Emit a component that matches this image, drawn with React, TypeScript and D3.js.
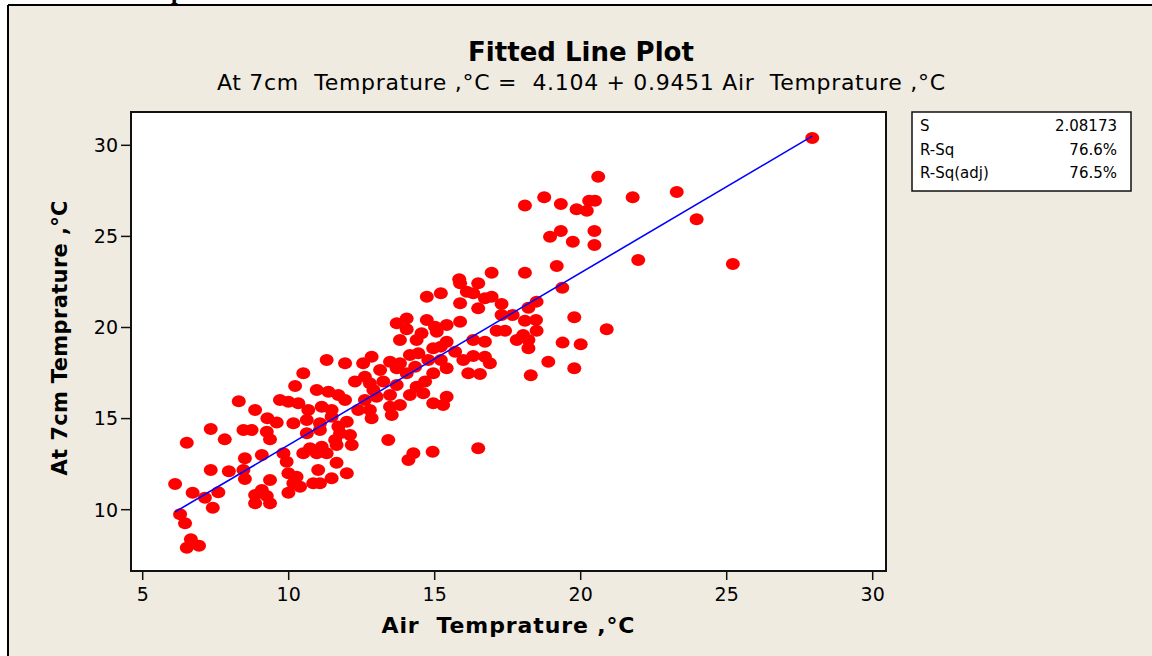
import React from "react";
import * as d3 from "d3";

// Air temperature (°C) and temperature at 7 cm depth (°C)
const airTemp: number[] = [
  // coolest readings
  6.51, 6.11, 6.28, 6.45, 6.65, 6.51, 6.93, 6.71, 7.13, 7.40, 7.59, 7.33, 7.33, 7.81, 8.29, 7.95,
  // 8.5 – 10.5
  10.22, 9.70, 9.99, 10.33, 8.85, 9.27, 9.59, 10.16, 8.45, 8.73, 9.25, 9.36, 8.50, 9.08, 9.82, 9.93,
  8.45, 9.36, 9.99, 10.16, 9.99, 9.08, 8.85, 9.25, 8.85, 9.36, 8.50, 10.27,
  // 10.5 – 13.7
  11.30, 11.93, 12.55, 12.84, 13.47, 13.70, 13.70, 13.13, 12.61, 12.27, 12.78, 13.24, 13.70, 12.90,
  10.96, 11.36, 11.70, 11.93, 12.61, 13.01, 12.38, 12.78, 13.47, 12.84, 10.62, 11.07, 11.47, 11.99,
  11.70, 12.10, 11.59, 11.07, 10.62, 13.41, 12.16, 10.50, 13.47, 10.67, 11.13, 11.47, 13.53, 11.76,
  10.73, 11.13, 11.64, 10.50, 10.96, 11.30, 11.64, 10.39, 10.84, 11.07, 11.47, 11.99, 11.01,
  // 13.8 – 16.5
  14.73, 15.21, 15.87, 16.49, 16.10, 15.87, 16.49, 14.04, 14.04, 14.73, 15.01, 15.41, 15.87, 13.81,
  14.38, 14.55, 15.07, 15.41, 14.95, 15.21, 16.32, 15.70, 15.98, 16.32, 16.15, 13.81, 14.15, 14.44,
  14.78, 15.21, 15.41, 14.95, 14.33, 14.04, 14.38, 14.67, 14.61, 14.15, 13.81, 14.95, 15.41, 14.27,
  14.93, 16.49, 15.84, 16.32, 15.29, 14.10,
  // 16.5 – 20.6
  20.60, 18.75, 18.09, 19.32, 19.86, 20.21, 20.29, 20.49, 18.95, 19.32, 19.73, 20.47, 20.47, 19.18,
  16.95, 18.09, 19.37, 16.95, 16.72, 17.29, 18.49, 18.21, 17.29, 17.67, 18.09, 18.47, 17.12, 17.41,
  18.49, 18.03, 17.81, 18.21, 18.21, 16.72, 19.78, 20.00, 19.38, 18.89, 19.78, 18.29, 16.72, 16.89,
  16.55,
  // warmest readings
  27.93, 21.78, 23.29, 23.97, 21.97, 25.21, 20.89,
];

const depthTemp: number[] = [
  13.68, 11.41, 9.75, 9.25, 8.38, 7.91, 8.02, 10.93, 10.66, 10.11, 10.96, 12.18, 14.43, 13.86, 15.95, 12.11,
  16.79, 16.02, 15.93, 15.84, 15.47, 15.02, 14.78, 14.74, 14.37, 14.37, 14.28, 13.86, 12.82, 13.00, 13.10, 12.63,
  12.18, 11.63, 12.00, 11.45, 10.93, 11.08, 10.81, 10.75, 10.35, 10.35, 11.69, 11.81,
  18.22, 18.04, 18.04, 18.40, 18.12, 20.23, 17.76, 17.67, 17.30, 17.03, 16.94, 17.03, 16.84, 16.57,
  16.57, 16.48, 16.30, 16.02, 16.02, 16.20, 15.47, 15.47, 15.65, 15.02, 14.92, 14.74, 15.10, 14.83,
  14.56, 14.10, 13.83, 14.37, 14.19, 13.83, 13.55, 17.49, 16.30, 15.47, 15.65, 15.47, 15.20, 14.19,
  13.37, 13.46, 13.55, 13.10, 13.10, 13.10, 12.58, 11.26, 11.45, 11.45, 11.72, 12.00, 12.18,
  21.69, 21.88, 22.43, 22.43, 21.96, 21.33, 21.05, 20.50, 19.90, 20.41, 20.04, 20.14, 20.32, 19.31,
  19.31, 19.68, 19.77, 19.22, 18.86, 18.95, 19.31, 18.67, 18.22, 18.44, 17.49, 18.04, 18.49, 18.58,
  18.22, 18.22, 17.76, 17.49, 17.85, 17.49, 16.75, 17.03, 16.39, 16.30, 15.75, 15.84, 16.20, 13.10,
  13.18, 13.37, 22.65, 21.88, 15.75, 12.73,
  28.28, 27.15, 26.69, 26.78, 26.49, 26.41, 26.96, 26.96, 24.98, 25.30, 24.71, 25.30, 24.53, 23.38,
  23.01, 23.01, 22.18, 21.69, 21.60, 21.29, 21.42, 21.09, 20.69, 20.69, 20.37, 20.41, 19.82, 19.82,
  19.82, 19.59, 19.31, 19.31, 18.86, 19.22, 20.56, 19.08, 19.17, 18.12, 17.76, 17.38, 18.40, 18.04,
  17.45,
  30.40, 27.15, 27.44, 25.94, 23.70, 23.49, 19.90,
];

// Regression fit and summary statistics
const intercept = 4.104;
const slope = 0.9451;
const statLabels: string[] = ["S", "R-Sq", "R-Sq(adj)"];
const statValues: string[] = ["2.08173", "76.6%", "76.5%"];

const xTicks: number[] = [5, 10, 15, 20, 25, 30];
const yTicks: number[] = [10, 15, 20, 25, 30];

const FONT = "'DejaVu Sans', Verdana, sans-serif";

export default function App() {
  const W = 1152;
  const H = 656;
  const frame = { left: 131, right: 886, top: 112, bottom: 571 };

  const x = d3.scaleLinear().domain([5, 30]).range([142.7, 872.7]);
  const y = d3.scaleLinear().domain([10, 30]).range([509.7, 145.3]);

  const points = airTemp.map((a, i) => ({ a, d: depthTemp[i] }));
  const [xMin, xMax] = d3.extent(airTemp) as [number, number];
  const fitLine = d3
    .line<number>()
    .x((v) => x(v))
    .y((v) => y(intercept + slope * v));

  return (
    <svg
      width={W}
      height={H}
      style={{ position: "absolute", left: 0, top: 0, display: "block" }}
      fontFamily={FONT}
    >
      <rect x={0} y={0} width={W} height={H} fill="#fff" />
      <rect x={8} y={5} width={W - 8} height={H - 5} fill="#EFEBE0" />
      <text x={171} y={-1} fontFamily="'Liberation Serif', serif" fontWeight="bold" fontSize={24} fill="#000">
        p
      </text>
      <line x1={8} y1={5} x2={W} y2={5} stroke="#000" strokeWidth={2} />
      <line x1={8} y1={5} x2={8} y2={H} stroke="#000" strokeWidth={2} />

      {/* titles */}
      <text x={581} y={61} textAnchor="middle" fontWeight="bold" fontSize={26} fill="#000">
        Fitted Line Plot
      </text>
      <text
        x={581}
        y={90}
        textAnchor="middle"
        fontSize={22}
        fill="#000"
        textLength={728}
        lengthAdjust="spacing"
        style={{ whiteSpace: "pre" }}
      >
        {"At 7cm  Temprature ,°C =  4.104 + 0.9451 Air  Temprature ,°C"}
      </text>

      {/* plot region */}
      <rect
        x={frame.left}
        y={frame.top}
        width={frame.right - frame.left}
        height={frame.bottom - frame.top}
        fill="#fff"
        stroke="#111"
        strokeWidth={2}
      />

      {points.map((p, i) => (
        <ellipse key={i} cx={x(p.a)} cy={y(p.d)} rx={7} ry={6} fill="#FF0000" />
      ))}

      <path d={fitLine([xMin, xMax]) ?? ""} fill="none" stroke="#0000FF" strokeWidth={1.6} />

      {/* y axis */}
      {yTicks.map((t) => (
        <g key={t}>
          <line x1={frame.left - 10} x2={frame.left} y1={y(t)} y2={y(t)} stroke="#111" strokeWidth={1.5} />
          <text x={frame.left - 13} y={y(t)} dy="0.36em" textAnchor="end" fontSize={19} fill="#000">
            {t}
          </text>
        </g>
      ))}

      {/* x axis */}
      {xTicks.map((t) => (
        <g key={t}>
          <line x1={x(t)} x2={x(t)} y1={frame.bottom} y2={frame.bottom + 9} stroke="#111" strokeWidth={1.5} />
          <text x={x(t)} y={601} textAnchor="middle" fontSize={19} fill="#000">
            {t}
          </text>
        </g>
      ))}

      <text
        x={508}
        y={633}
        textAnchor="middle"
        fontWeight="bold"
        fontSize={22}
        fill="#000"
        textLength={253}
        lengthAdjust="spacing"
        style={{ whiteSpace: "pre" }}
      >
        {"Air  Temprature ,°C"}
      </text>
      <text
        transform="translate(67,338) rotate(-90)"
        textAnchor="middle"
        fontWeight="bold"
        fontSize={21}
        fill="#000"
        textLength={275}
        lengthAdjust="spacing"
      >
        At 7cm Temprature ,°C
      </text>

      {/* summary box */}
      <rect x={912} y={112} width={219} height={79} fill="#fff" stroke="#111" strokeWidth={1.5} />
      {statLabels.map((s, i) => (
        <g key={s}>
          <text x={920} y={131 + i * 23.5} fontSize={15} fill="#000">
            {s}
          </text>
          <text x={1117} y={131 + i * 23.5} textAnchor="end" fontSize={15} fill="#000">
            {statValues[i]}
          </text>
        </g>
      ))}
    </svg>
  );
}
